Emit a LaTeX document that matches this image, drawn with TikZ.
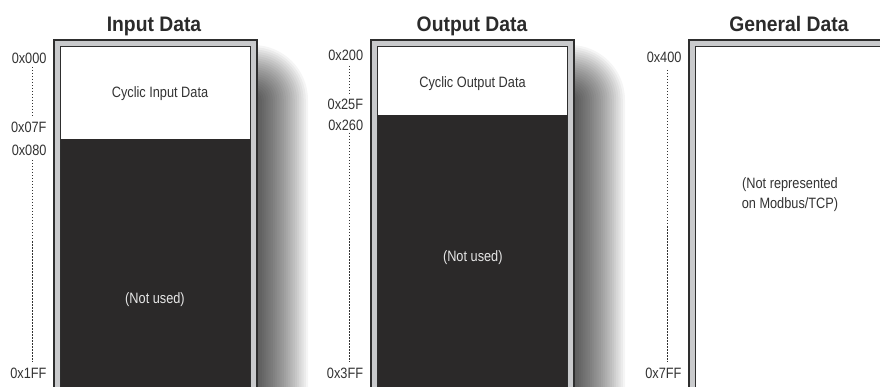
\documentclass[tikz,border=0pt]{standalone}
\usepackage{fontspec}
\setmainfont{Liberation Sans}[FakeStretch=0.85]
\newfontfamily\titlefont{Liberation Sans}[FakeStretch=0.92]
\definecolor{darkfill}{HTML}{2B2929}
\definecolor{framegray}{HTML}{C9CACC}
\definecolor{bordc}{HTML}{2E2E2E}
\definecolor{labelc}{HTML}{333333}
\definecolor{titlec}{HTML}{2B2B2B}
\definecolor{notc}{HTML}{E6E6E6}
\tikzset{
  addr/.style={font=\fontsize{15}{19}\selectfont, text=labelc, inner sep=0pt, anchor=base east},
  boxtitle/.style={font=\titlefont\bfseries\fontsize{21}{25}\selectfont, text=titlec, inner sep=0pt, anchor=base},
  intext/.style={font=\fontsize{15}{20}\selectfont, text=labelc, inner sep=0pt, anchor=base, align=center},
  nottext/.style={font=\fontsize{15}{19}\selectfont, text=notc, inner sep=0pt, anchor=base},
  addrrange/.style={draw=labelc, line width=1pt, dash pattern=on 1.5pt off 1.5pt},
}
\newcommand\memshadow[2]{%
  \foreach \k in {1,...,25}{%
    \pgfmathsetmacro\e{\k*2.2}%
    \fill[black, opacity=0.038, rounded corners=\e pt]
      ({#1+60-\e},{100-\e}) rectangle ({#2-5+\e},{460+\e});
  }%
}
\begin{document}
\begin{tikzpicture}[x=1pt,y=-1pt]
\useasboundingbox (0,0) rectangle (880,387);
\clip (0,0) rectangle (880,387);
\fill[white] (0,0) rectangle (880,387);
% shadows
\memshadow{53}{258}
\memshadow{370}{575}
\memshadow{688}{893}
% Input Data box
\fill[framegray] (53,39) rectangle (258,420);
\draw[bordc, line width=2pt] (54,40) rectangle (257,420);
\fill[white] (60.5,46.5) rectangle (250,139);
\fill[darkfill] (60.5,139) rectangle (250,420);
\draw[bordc, line width=1pt] (60.5,46.5) rectangle (250,420);
% Output Data box
\fill[framegray] (370,39) rectangle (575,420);
\draw[bordc, line width=2pt] (371,40) rectangle (574,420);
\fill[white] (377.5,46.5) rectangle (567.5,115);
\fill[darkfill] (377.5,115) rectangle (567.5,420);
\draw[bordc, line width=1pt] (377.5,46.5) rectangle (567.5,420);
% General Data box
\fill[framegray] (688,39) rectangle (893,420);
\draw[bordc, line width=2pt] (689,40) rectangle (892,420);
\fill[white] (695.5,46.5) rectangle (885.5,420);
\draw[bordc, line width=1pt] (695.5,46.5) rectangle (885.5,420);
% titles
\node[boxtitle] (tin) at (154,31.7) {Input Data};
\node[boxtitle] (tout) at (472,31.7) {Output Data};
\node[boxtitle] (tgen) at (789,31.7) {General Data};
% inner texts
\node[intext] (cin) at (160,97.3) {Cyclic Input Data};
\node[intext] (cout) at (472.5,87.3) {Cyclic Output Data};
\node[nottext] (nin) at (155,303.3) {(Not used)};
\node[nottext] (nout) at (472.8,261.7) {(Not used)};
\node[intext] (ngen) at (790,209) {(Not represented\\on Modbus/TCP)};
% address labels
\node[addr] (a000) at (46.7,63.3) {0x000};
\node[addr] (a07F) at (46.7,132.3) {0x07F};
\node[addr] (a080) at (46.7,155.7) {0x080};
\node[addr] (a1FF) at (46.7,378) {0x1FF};
\node[addr] (a200) at (363.3,60.7) {0x200};
\node[addr] (a25F) at (363.3,109.3) {0x25F};
\node[addr] (a260) at (363.3,131) {0x260};
\node[addr] (a3FF) at (363.3,378) {0x3FF};
\node[addr] (a400) at (681.7,62.7) {0x400};
\node[addr] (a7FF) at (681.7,378) {0x7FF};
% dotted ranges
\coordinate (r1a) at (32,67); \coordinate (r1b) at (32,118);
\coordinate (r2a) at (32,160); \coordinate (r2b) at (32,362);
\coordinate (r3a) at (349.3,66); \coordinate (r3b) at (349.3,95);
\coordinate (r4a) at (349.3,133); \coordinate (r4b) at (349.3,362);
\coordinate (r5a) at (667.7,70); \coordinate (r5b) at (667.7,362);
\draw[addrrange] (r1a) -- (r1b);
\draw[addrrange] (r2a) -- (r2b);
\draw[addrrange] (r3a) -- (r3b);
\draw[addrrange] (r4a) -- (r4b);
\draw[addrrange] (r5a) -- (r5b);
\end{tikzpicture}
\end{document}
